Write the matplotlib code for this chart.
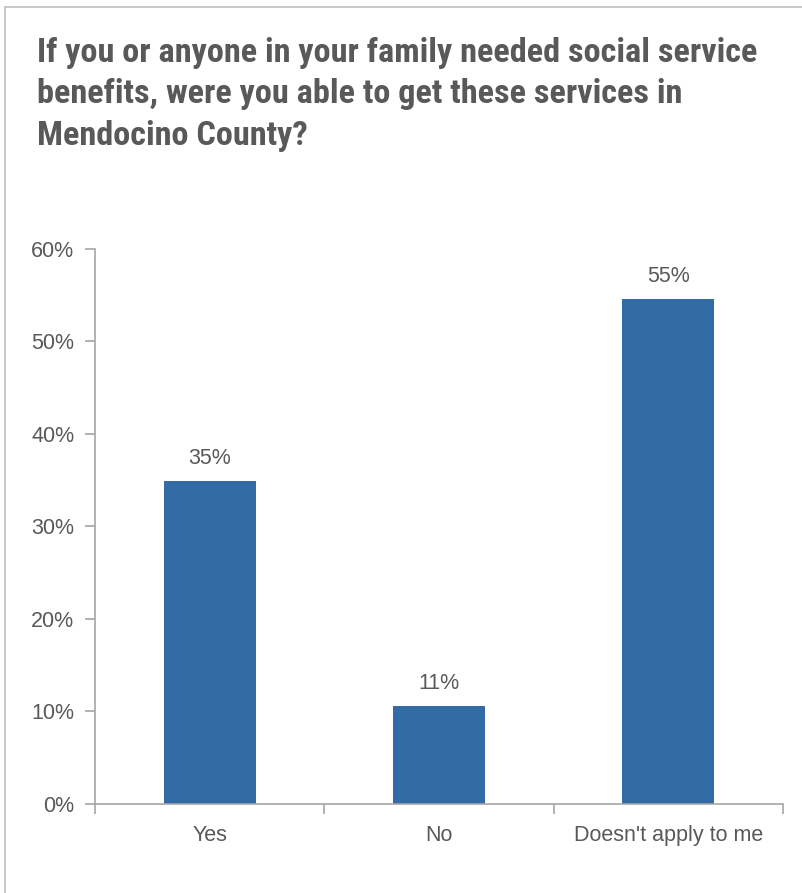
import matplotlib
matplotlib.use("Agg")
import matplotlib.pyplot as plt
from matplotlib.lines import Line2D
from matplotlib.ticker import FuncFormatter

categories = ["Yes", "No", "Doesn't apply to me"]
shares = [34.9, 10.6, 54.6]
labels = ["35%", "11%", "55%"]
title = ("If you or anyone in your family needed social service\n"
         "benefits, were you able to get these services in\n"
         "Mendocino County?")

TEXT = "#595959"
GRID = "#A6A6A6"
BAR = "#336CA4"
BODY = ["Liberation Sans", "DejaVu Sans"]
HEAD = ["Roboto Condensed", "DejaVu Sans"]

fig = plt.figure(figsize=(8.03, 8.93), dpi=100)
ax = fig.add_axes([0.1183, 0.0997, 0.975 - 0.1183, 0.7212 - 0.0997])

x = list(range(len(categories)))
ax.bar(x, shares, width=0.4, color=BAR)
for xi, v, lab in zip(x, shares, labels):
    ax.text(xi, v + 1.3, lab, ha="center", va="bottom", fontsize=15.5,
            color=TEXT, family=BODY)

ax.set_xlim(-0.5, len(categories) - 0.5)
ax.set_ylim(0, 60)
ax.set_yticks(range(0, 61, 10))
ax.yaxis.set_major_formatter(FuncFormatter(lambda v, _: f"{v:.0f}%"))
ax.set_xticks(x)
ax.set_xticklabels(categories)
ax.set_xticks([-0.5, 0.5, 1.5, 2.5], minor=True)
ax.tick_params(axis="x", which="major", length=0, pad=15)
ax.tick_params(axis="x", which="minor", length=7, color=GRID, width=1.2)
ax.tick_params(axis="y", length=7, color=GRID, width=1.2, pad=8)
for lab in ax.get_xticklabels() + ax.get_yticklabels():
    lab.set_fontsize(15.5)
    lab.set_color(TEXT)
    lab.set_family(BODY)

for side in ("top", "right"):
    ax.spines[side].set_visible(False)
for side in ("left", "bottom"):
    ax.spines[side].set_color(GRID)
    ax.spines[side].set_linewidth(1.2)

fig.text(37 / 803, 1 - 37 / 893, title, ha="left", va="top", fontsize=24.7,
         fontweight="bold", color=TEXT, family=HEAD, linespacing=1.38)

# chart frame (only top and left edges visible in the crop)
fig.add_artist(Line2D([5 / 803, 1], [1 - 7 / 893] * 2, color="#BFBFBF",
                      lw=1.2, transform=fig.transFigure))
fig.add_artist(Line2D([5 / 803] * 2, [0, 1 - 7 / 893], color="#BFBFBF",
                      lw=1.2, transform=fig.transFigure))

fig.savefig("out.png", dpi=100)
